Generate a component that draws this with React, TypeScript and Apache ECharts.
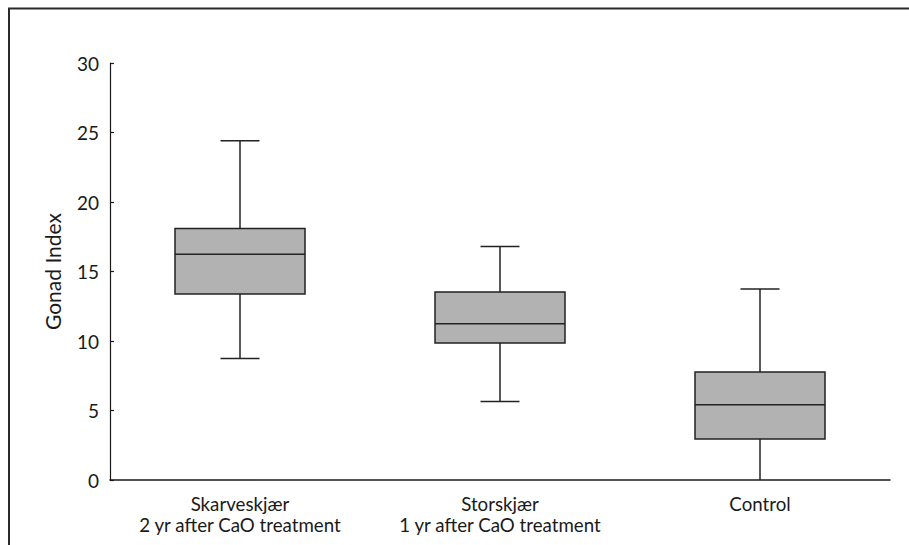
import React, { useEffect, useRef } from "react";
import * as echarts from "echarts";

const categories = [
  "Skarveskjær\n2 yr after CaO treatment",
  "Storskjær\n1 yr after CaO treatment",
  "Control",
];
// [min, Q1, median, Q3, max]
const boxValues = [
  [8.75, 13.38, 16.24, 18.1, 24.41],
  [5.64, 9.86, 11.25, 13.53, 16.79],
  [0, 2.95, 5.42, 7.77, 13.74],
];
const yTicks = [0, 5, 10, 15, 20, 25, 30];

const FONT = "Lato, 'Open Sans', sans-serif";
const INK = "#1a1a1a";

export default function App() {
  const ref = useRef<HTMLDivElement>(null);
  useEffect(() => {
    if (!ref.current) return;
    const chart = echarts.init(ref.current, null, { renderer: "svg" });
    chart.setOption({
      animation: false,
      backgroundColor: "#ffffff",
      graphic: [
        {
          type: "rect",
          shape: { x: 9, y: 8.5, width: 1200, height: 1000 },
          style: { fill: "none", stroke: "#2a2a2a", lineWidth: 2 },
          silent: true,
        },
      ],
      grid: { left: 110, right: 19, top: 63, bottom: 65 },
      xAxis: {
        type: "category",
        data: categories,
        axisLine: { show: true, lineStyle: { color: INK, width: 1.5 } },
        axisTick: { show: false },
        axisLabel: {
          color: INK,
          fontFamily: FONT,
          fontSize: 18.7,
          lineHeight: 21,
          margin: 13,
          interval: 0,
          hideOverlap: false,
        },
      },
      yAxis: {
        type: "value",
        min: 0,
        max: 30,
        interval: 5,
        name: "Gonad Index",
        nameLocation: "middle",
        nameGap: 47,
        nameTextStyle: { color: INK, fontFamily: FONT, fontSize: 21 },
        axisLine: { show: true, lineStyle: { color: INK, width: 1.2 } },
        axisTick: { show: true, inside: true, length: 4, lineStyle: { color: INK, width: 1.2 } },
        splitLine: { show: false },
        axisLabel: {
          color: INK,
          fontFamily: FONT,
          fontSize: 19,
          margin: 11,
          formatter: (v: number) => (yTicks.includes(v) ? String(v) : ""),
        },
      },
      series: [
        {
          type: "custom",
          data: boxValues.map((b, i) => [i, ...b]),
          renderItem: (params: any, api: any) => {
            const idx = api.value(0);
            const mn = api.value(1);
            const q1 = api.value(2);
            const md = api.value(3);
            const q3 = api.value(4);
            const mx = api.value(5);
            const band = api.size([1, 0])[0];
            const boxW = band * 0.5;
            const capW = band * 0.15;
            const pMin = api.coord([idx, mn]);
            const pQ1 = api.coord([idx, q1]);
            const pMd = api.coord([idx, md]);
            const pQ3 = api.coord([idx, q3]);
            const pMax = api.coord([idx, mx]);
            const cx = pMd[0];
            const stroke = { stroke: "#222", lineWidth: 1.5 };
            const children: any[] = [
              {
                type: "line",
                shape: { x1: cx, y1: pMax[1], x2: cx, y2: pQ3[1] },
                style: stroke,
              },
              {
                type: "line",
                shape: { x1: cx, y1: pQ1[1], x2: cx, y2: pMin[1] },
                style: stroke,
              },
              {
                type: "line",
                shape: { x1: cx - capW / 2, y1: pMax[1], x2: cx + capW / 2, y2: pMax[1] },
                style: stroke,
              },
              {
                type: "rect",
                shape: { x: cx - boxW / 2, y: pQ3[1], width: boxW, height: pQ1[1] - pQ3[1] },
                style: { fill: "#b2b2b2", stroke: "#222", lineWidth: 1.5 },
              },
              {
                type: "line",
                shape: { x1: cx - boxW / 2, y1: pMd[1], x2: cx + boxW / 2, y2: pMd[1] },
                style: stroke,
              },
            ];
            if (mn > 0) {
              children.push({
                type: "line",
                shape: { x1: cx - capW / 2, y1: pMin[1], x2: cx + capW / 2, y2: pMin[1] },
                style: stroke,
              });
            }
            return { type: "group", children };
          },
        },
      ],
    });
    return () => chart.dispose();
  }, []);
  return (
    <div
      ref={ref}
      style={{ position: "absolute", left: 0, top: 0, width: 909, height: 545 }}
    />
  );
}
